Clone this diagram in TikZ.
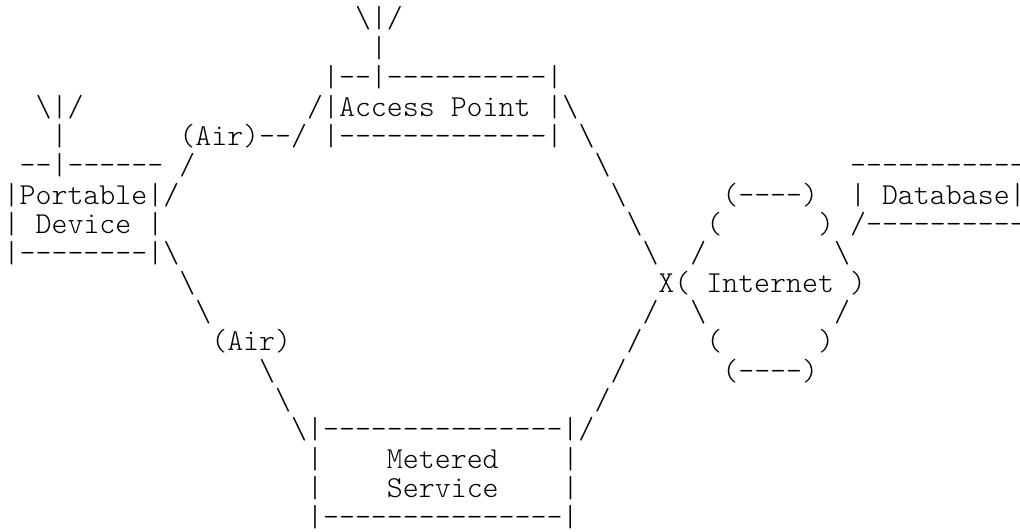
\documentclass[tikz,border=0pt]{standalone}
\usepackage{fontspec}
\setmonofont{Latin Modern Mono Light}
\newcommand{\bs}{\textbackslash}
\tikzset{art/.style={anchor=base west, inner sep=0pt, outer sep=0pt, font=\ttfamily\fontsize{30.4pt}{30.4pt}\selectfont}}

\begin{document}
\begin{tikzpicture}[x=15.97pt, y=-29.35pt, shift={(3.7pt,-28pt)}]
        \useasboundingbox (-3.7pt, 28pt) rectangle (1016.3pt, -504pt);

        \node[art] at (22,  0) (apantenna)  {\bs|/};
        \node[art] at (23,  1) (apmast)     {|};
        \node[art] at (20,  2) (aptop)      {|--|----------|};
        \node[art] at (19,  3) (apname)     {/|Access Point |\bs};
        \node[art] at (20,  4) (apbottom)   {|-------------|};

        \node[art] at ( 2,  3) (pdantenna)  {\bs|/};
        \node[art] at ( 3,  4) (pdmast)     {|};
        \node[art] at ( 1,  5) (pdtop)      {--|------};
        \node[art] at ( 0,  6) (pdname)     {|Portable|/};
        \node[art] at ( 0,  7) (pdleft)     {|};
        \node[art] at ( 2,  7) (pdname2)    {Device};
        \node[art] at ( 9,  7) (pdright)    {|};
        \node[art] at ( 0,  8) (pdbottom)   {|--------|\bs};

        \node[art] at (11,  4) (airtop)     {(Air)--/};
        \node[art] at (11,  5) (airslash)   {/};
        \node[art] at (11,  9) (airb)       {\bs};
        \node[art] at (12, 10) (airc)       {\bs};
        \node[art] at (13, 11) (airbottom)  {(Air)};
        \node[art] at (16, 12) (aird)       {\bs};
        \node[art] at (17, 13) (aire)       {\bs};

        \node[art] at (36,  4) (apa)        {\bs};
        \node[art] at (37,  5) (apb)        {\bs};
        \node[art] at (38,  6) (apc)        {\bs};
        \node[art] at (39,  7) (apd)        {\bs};
        \node[art] at (40,  8) (ape)        {\bs};
        \node[art] at (40, 10) (msa)        {/};
        \node[art] at (39, 11) (msb)        {/};
        \node[art] at (38, 12) (msc)        {/};
        \node[art] at (37, 13) (msd)        {/};

        \node[art] at (18, 14) (mstop)      {\bs|---------------|/};
        \node[art] at (19, 15) (msleft)     {|};
        \node[art] at (24, 15) (msname)     {Metered};
        \node[art] at (35, 15) (msright)    {|};
        \node[art] at (19, 16) (msleft2)    {|};
        \node[art] at (24, 16) (msname2)    {Service};
        \node[art] at (35, 16) (msright2)   {|};
        \node[art] at (19, 17) (msbottom)   {|---------------|};

        \node[art] at (45,  6) (netrowa)    {(----)};
        \node[art] at (44,  7) (netrowb)    {(};
        \node[art] at (51,  7) (netrowc)    {)};
        \node[art] at (43,  8) (netrowd)    {/};
        \node[art] at (52,  8) (netrowe)    {\bs};
        \node[art] at (41,  9) (netname)    {X( Internet )};
        \node[art] at (43, 10) (netrowf)    {\bs};
        \node[art] at (52, 10) (netrowg)    {/};
        \node[art] at (44, 11) (netrowh)    {(};
        \node[art] at (51, 11) (netrowi)    {)};
        \node[art] at (45, 12) (netrowj)    {(----)};

        \node[art] at (53,  5) (dbtop)      {-----------};
        \node[art] at (53,  6) (dbname)     {| Database|};
        \node[art] at (53,  7) (dbbottom)   {/----------};
\end{tikzpicture}
\end{document}
